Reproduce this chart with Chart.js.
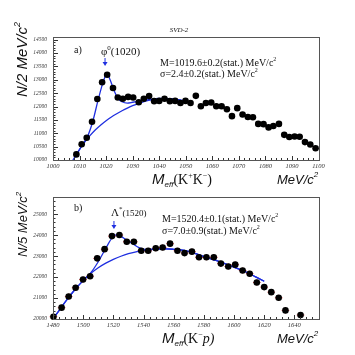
<!DOCTYPE html>
<html>
<head>
<meta charset="utf-8">
<script src="https://cdn.jsdelivr.net/npm/chart.js@4.4.0/dist/chart.umd.min.js"></script>
<style>
    html, body { margin: 0; padding: 0; background: #fff; }
    .pad { position: absolute; left: 0; width: 355px; }
    #padA { top: 0; height: 188px; }
    #padB { top: 188px; height: 167px; }
</style>
</head>
<body>
<div class="pad" id="padA"><canvas id="chartA"></canvas></div>
<div class="pad" id="padB"><canvas id="chartB"></canvas></div>
<script>
// panel a) K+K- effective mass, bins of 2 MeV
const massA = [1008.8, 1010.8, 1012.7, 1014.7, 1016.7, 1018.5, 1020.4, 1022.6, 1024.4, 1026.3,
    1028.3, 1030.2, 1032.3, 1034.2, 1036.2, 1038.1, 1040.0, 1042.0, 1044.0, 1046.0,
    1048.0, 1049.9, 1051.8, 1053.8, 1055.7, 1057.6, 1059.6, 1061.5, 1063.5, 1065.5,
    1067.4, 1069.4, 1071.4, 1073.4, 1075.3, 1077.3, 1079.3, 1081.2, 1083.0, 1085.1,
    1087.1, 1089.0, 1091.0, 1092.9, 1094.9, 1096.9, 1098.9];
const countsA = [10210, 10590, 10830, 11430, 12280, 12910, 13190, 12690, 12340, 12290,
    12360, 12340, 12160, 12290, 12390, 12200, 12210, 12290, 12200, 12210,
    12130, 12210, 12130, 12400, 12010, 12130, 12150, 12010, 12010, 11900,
    11640, 11940, 11700, 11610, 11600, 11350, 11340, 11220, 11270, 11350,
    10940, 10860, 10880, 10870, 10670, 10580, 10440];
const fitMassA = [1007.5, 1009, 1011, 1013, 1015, 1017, 1019, 1020.3, 1021.5, 1023, 1024.5, 1026, 1028, 1030, 1033, 1036, 1040, 1044, 1048, 1051];
const fitA = [10000, 10220, 10560, 10880, 11450, 12250, 12950, 13230, 13000, 12600, 12300, 12180, 12130, 12160, 12210, 12260, 12300, 12290, 12240, 12180];
const bgMassA = [1008, 1010, 1012, 1014, 1016, 1018, 1020, 1022, 1024, 1026, 1028, 1030, 1033, 1036, 1040, 1044, 1048, 1051];
const bgA = [10080, 10400, 10680, 10920, 11130, 11310, 11470, 11610, 11730, 11840, 11940, 12030, 12140, 12230, 12290, 12290, 12240, 12180];
const xTicksA = [1000, 1010, 1020, 1030, 1040, 1050, 1060, 1070, 1080, 1090, 1100];
const yTicksA = [10000, 10500, 11000, 11500, 12000, 12500, 13000, 13500, 14000, 14500];

// panel b) K-p effective mass, bins of 5 MeV
const massB = [1480.3, 1485.7, 1490.4, 1495.0, 1499.9, 1504.6, 1509.3, 1514.2, 1519.1, 1524.0,
    1528.9, 1533.6, 1538.5, 1543.1, 1548.1, 1552.7, 1557.6, 1562.5, 1567.2, 1572.1,
    1576.8, 1581.7, 1586.6, 1591.3, 1596.2, 1600.8, 1605.7, 1610.4, 1615.1, 1620.0,
    1624.7, 1629.6, 1634.1, 1639.0, 1644.1];
const countsB = [20110, 20540, 21070, 21490, 21880, 22040, 22890, 23330, 23950, 24000,
    23680, 23680, 23250, 23250, 23370, 23410, 23590, 23250, 23140, 23210,
    22940, 22940, 22940, 22640, 22500, 22590, 22310, 22160, 21740, 21520,
    21280, 21010, 20410, 19800, 20190];
const fitMassB = [1480, 1485, 1490, 1495, 1500, 1505, 1510, 1515, 1519.5, 1522.5, 1527, 1533, 1537, 1541, 1545, 1550, 1555, 1560, 1567, 1574, 1581, 1588, 1594, 1601, 1608, 1614, 1620];
const fitB = [20000, 20500, 20990, 21440, 21830, 22200, 22730, 23370, 23900, 24020, 23850, 23580, 23400, 23320, 23330, 23340, 23340, 23320, 23270, 23130, 22950, 22790, 22640, 22440, 22240, 22020, 21800];
const bgMassB = [1480, 1485, 1490, 1495, 1500, 1505, 1510, 1515, 1520, 1525, 1530, 1535, 1540, 1545, 1550, 1555, 1560, 1567, 1574, 1581, 1588, 1594, 1601, 1608, 1614, 1620];
const bgB = [20000, 20500, 20990, 21440, 21830, 22170, 22440, 22660, 22840, 22990, 23110, 23200, 23270, 23310, 23330, 23340, 23320, 23270, 23130, 22950, 22790, 22640, 22440, 22240, 22020, 21800];
const xTicksB = [1480, 1500, 1520, 1540, 1560, 1580, 1600, 1620, 1640];
const yTicksB = [20000, 21000, 22000, 23000, 24000, 25000];

const BLUE = '#1f2fe0';
const SERIF = '"Liberation Serif", "DejaVu Serif", serif';
const SANS = '"Liberation Sans", Arial, sans-serif';

function toXY(xs, ys) {
    return xs.map((x, i) => ({ x, y: ys[i] }));
}

// draws a row of text pieces (for sub/superscripts)
function drawRuns(ctx, x, y, runs) {
    let cx = x;
    runs.forEach(r => {
        ctx.font = r.f;
        ctx.fillText(r.t, cx, y + (r.dy || 0));
        cx += ctx.measureText(r.t).width;
    });
}

function arrowDown(ctx, x, y1, y2) {
    ctx.save();
    ctx.strokeStyle = BLUE;
    ctx.fillStyle = BLUE;
    ctx.lineWidth = 1;
    ctx.beginPath();
    ctx.moveTo(x, y1);
    ctx.lineTo(x, y2 - 2);
    ctx.stroke();
    ctx.beginPath();
    ctx.moveTo(x - 2.5, y2 - 4);
    ctx.lineTo(x + 2.5, y2 - 4);
    ctx.lineTo(x, y2);
    ctx.closePath();
    ctx.fill();
    ctx.restore();
}

// frame, inner ticks, error bars and the text of a ROOT-like pad
function padPlugin(cfg) {
    return {
        id: 'pad' + cfg.name,
        beforeDatasetsDraw(chart) {
            const { ctx, scales: { x, y } } = chart;
            ctx.save();
            ctx.strokeStyle = '#e23a3a';
            ctx.lineWidth = 1;
            chart.data.datasets[0].data.forEach(p => {
                const px = x.getPixelForValue(p.x);
                const py = y.getPixelForValue(p.y);
                if (py > chart.chartArea.bottom + 2) return;
                ctx.beginPath();
                ctx.moveTo(x.getPixelForValue(p.x - cfg.xErr), py);
                ctx.lineTo(x.getPixelForValue(p.x + cfg.xErr), py);
                ctx.moveTo(px, y.getPixelForValue(p.y - cfg.yErr));
                ctx.lineTo(px, y.getPixelForValue(p.y + cfg.yErr));
                ctx.stroke();
            });
            ctx.restore();
        },
        afterDraw(chart) {
            const { ctx, chartArea: a, scales: { x, y } } = chart;
            ctx.save();
            // ticks pointing into the frame
            ctx.strokeStyle = '#333';
            ctx.lineWidth = 1;
            ctx.beginPath();
            for (let v = x.min; v <= x.max + 1e-6; v += cfg.xMinor) {
                const px = Math.round(x.getPixelForValue(v)) + 0.5;
                const major = cfg.xTicks.some(t => Math.abs(t - v) < 1e-6);
                ctx.moveTo(px, a.bottom);
                ctx.lineTo(px, a.bottom - (major ? 4 : 2));
            }
            for (let v = y.min; v <= y.max + 1e-6; v += cfg.yMinor) {
                const py = Math.round(y.getPixelForValue(v)) + 0.5;
                const major = cfg.yTicks.some(t => Math.abs(t - v) < 1e-6);
                ctx.moveTo(a.left, py);
                ctx.lineTo(a.left + (major ? 5 : 2.5), py);
            }
            ctx.stroke();
            // frame
            ctx.strokeStyle = '#555';
            ctx.strokeRect(Math.round(a.left) + 0.5, Math.round(a.top) + 0.5,
                Math.round(a.right - a.left), Math.round(a.bottom - a.top));

            ctx.fillStyle = '#111';
            ctx.textBaseline = 'alphabetic';
            ctx.textAlign = 'left';
            cfg.texts(ctx, x, y, a);

            // y axis title, rotated
            ctx.save();
            ctx.translate(27, cfg.yTitleBottom);
            ctx.rotate(-Math.PI / 2);
            drawRuns(ctx, 0, 0, [
                { t: cfg.yTitle, f: `italic ${cfg.yTitleSize}px ${SANS}` },
                { t: '2', f: `italic ${Math.round(cfg.yTitleSize * 0.6)}px ${SANS}`, dy: -cfg.yTitleSize * 0.45 }
            ]);
            ctx.restore();

            // x axis title
            drawRuns(ctx, cfg.xTitleX, cfg.xTitleY, cfg.xTitleRuns);
            drawRuns(ctx, 277, cfg.xTitleY, [
                { t: 'MeV/c', f: `italic 13px ${SANS}` },
                { t: '2', f: `italic 8px ${SANS}`, dy: -7 }
            ]);
            ctx.restore();
        }
    };
}

function makeChart(id, cfg) {
    return new Chart(document.getElementById(id), {
        type: 'scatter',
        data: {
            datasets: [
                {
                    data: toXY(cfg.mass, cfg.counts),
                    backgroundColor: '#000',
                    borderColor: '#000',
                    pointRadius: 3.3,
                    pointHoverRadius: 3.3,
                    borderWidth: 0,
                    clip: { left: 6, right: 6, top: 6, bottom: 1 },
                    order: 0
                },
                {
                    data: toXY(cfg.fitMass, cfg.fit),
                    showLine: true,
                    borderColor: BLUE,
                    borderWidth: 1.3,
                    pointRadius: 0,
                    cubicInterpolationMode: 'monotone',
                    order: 1
                },
                {
                    data: toXY(cfg.bgMass, cfg.bg),
                    showLine: true,
                    borderColor: BLUE,
                    borderWidth: 1.3,
                    pointRadius: 0,
                    cubicInterpolationMode: 'monotone',
                    order: 2
                }
            ]
        },
        options: {
            responsive: true,
            maintainAspectRatio: false,
            animation: false,
            events: [],
            layout: { padding: { left: 0, right: 36.5, top: cfg.top, bottom: 0 } },
            plugins: { legend: { display: false }, tooltip: { enabled: false } },
            scales: {
                x: {
                    type: 'linear',
                    min: cfg.xMin,
                    max: cfg.xMax,
                    grid: { display: false, drawTicks: false },
                    border: { display: false },
                    afterFit: s => { s.height = cfg.xAxisHeight; },
                    afterBuildTicks: s => { s.ticks = cfg.xTicks.map(v => ({ value: v })); },
                    ticks: {
                        padding: 2,
                        color: '#333',
                        font: { family: SERIF, size: 6.5, style: 'italic' },
                        maxRotation: 0,
                        autoSkip: false,
                        callback: v => String(v)
                    }
                },
                y: {
                    type: 'linear',
                    min: cfg.yMin,
                    max: cfg.yMax,
                    grid: { display: false, drawTicks: false },
                    border: { display: false },
                    afterFit: s => { s.width = 53; },
                    afterBuildTicks: s => { s.ticks = cfg.yTicks.map(v => ({ value: v })); },
                    ticks: {
                        padding: 6,
                        color: '#333',
                        font: { family: SERIF, size: 5.5, style: 'italic' },
                        autoSkip: false,
                        callback: v => String(v)
                    }
                }
            }
        },
        plugins: [padPlugin(cfg)]
    });
}

makeChart('chartA', {
    name: 'A',
    mass: massA, counts: countsA, fitMass: fitMassA, fit: fitA, bgMass: bgMassA, bg: bgA,
    xTicks: xTicksA, yTicks: yTicksA,
    xMin: 1000, xMax: 1100, xMinor: 2,
    yMin: 10000, yMax: 14600, yMinor: 100,
    xErr: 1, yErr: 60,
    top: 37, xAxisHeight: 28,
    yTitle: 'N/2 MeV/c', yTitleSize: 15, yTitleBottom: 97,
    xTitleX: 152, xTitleY: 184,
    xTitleRuns: [
        { t: 'M', f: `italic 15px ${SANS}` },
        { t: 'eff', f: `italic 8px ${SANS}`, dy: 3 },
        { t: '(K', f: `14px ${SERIF}` },
        { t: '+', f: `8px ${SERIF}`, dy: -6 },
        { t: 'K', f: `14px ${SERIF}` },
        { t: '\u2212', f: `8px ${SERIF}`, dy: -6 },
        { t: ')', f: `14px ${SERIF}` }
    ],
    texts(ctx, x, y, a) {
        ctx.font = `italic 7px ${SERIF}`;
        ctx.textAlign = 'center';
        ctx.fillText('SVD-2', 179, 32);
        ctx.textAlign = 'left';
        ctx.font = `10px ${SERIF}`;
        ctx.fillText('a)', 74, 53);
        const px = x.getPixelForValue(1019.6);
        drawRuns(ctx, 101, 55, [
            { t: '\u03c6', f: `11px ${SERIF}` },
            { t: '0', f: `7px ${SERIF}`, dy: -5 },
            { t: '(1020)', f: `11px ${SERIF}` }
        ]);
        arrowDown(ctx, px, 58, 66);
        drawRuns(ctx, 160, 66, [
            { t: 'M=1019.6\u00b10.2(stat.) MeV/c', f: `10px ${SERIF}` },
            { t: '2', f: `6px ${SERIF}`, dy: -5 }
        ]);
        drawRuns(ctx, 160, 77, [
            { t: '\u03c3=2.4\u00b10.2(stat.) MeV/c', f: `10px ${SERIF}` },
            { t: '2', f: `6px ${SERIF}`, dy: -5 }
        ]);
    }
});

makeChart('chartB', {
    name: 'B',
    mass: massB, counts: countsB, fitMass: fitMassB, fit: fitB, bgMass: bgMassB, bg: bgB,
    xTicks: xTicksB, yTicks: yTicksB,
    xMin: 1480, xMax: 1656, xMinor: 4,
    yMin: 20000, yMax: 25800, yMinor: 200,
    xErr: 2.5, yErr: 140,
    top: 7.7, xAxisHeight: 36,
    yTitle: 'N/5 MeV/c', yTitleSize: 13, yTitleBottom: 69,
    xTitleX: 162, xTitleY: 155,
    xTitleRuns: [
        { t: 'M', f: `italic 15px ${SANS}` },
        { t: 'eff', f: `italic 8px ${SANS}`, dy: 3 },
        { t: '(K', f: `14px ${SERIF}` },
        { t: '\u2212', f: `8px ${SERIF}`, dy: -6 },
        { t: 'p)', f: `italic 14px ${SERIF}` }
    ],
    texts(ctx, x, y, a) {
        ctx.font = `10px ${SERIF}`;
        ctx.fillText('b)', 74, 23);
        const px = x.getPixelForValue(1520.4);
        drawRuns(ctx, 111, 28, [
            { t: '\u039b', f: `11px ${SERIF}` },
            { t: '*', f: `7px ${SERIF}`, dy: -5 },
            { t: '(1520)', f: `9px ${SERIF}` }
        ]);
        arrowDown(ctx, px, 33, 41);
        drawRuns(ctx, 162, 34, [
            { t: 'M=1520.4\u00b10.1(stat.) MeV/c', f: `10px ${SERIF}` },
            { t: '2', f: `6px ${SERIF}`, dy: -5 }
        ]);
        drawRuns(ctx, 162, 46, [
            { t: '\u03c3=7.0\u00b10.9(stat.) MeV/c', f: `10px ${SERIF}` },
            { t: '2', f: `6px ${SERIF}`, dy: -5 }
        ]);
    }
});
</script>
</body>
</html>
